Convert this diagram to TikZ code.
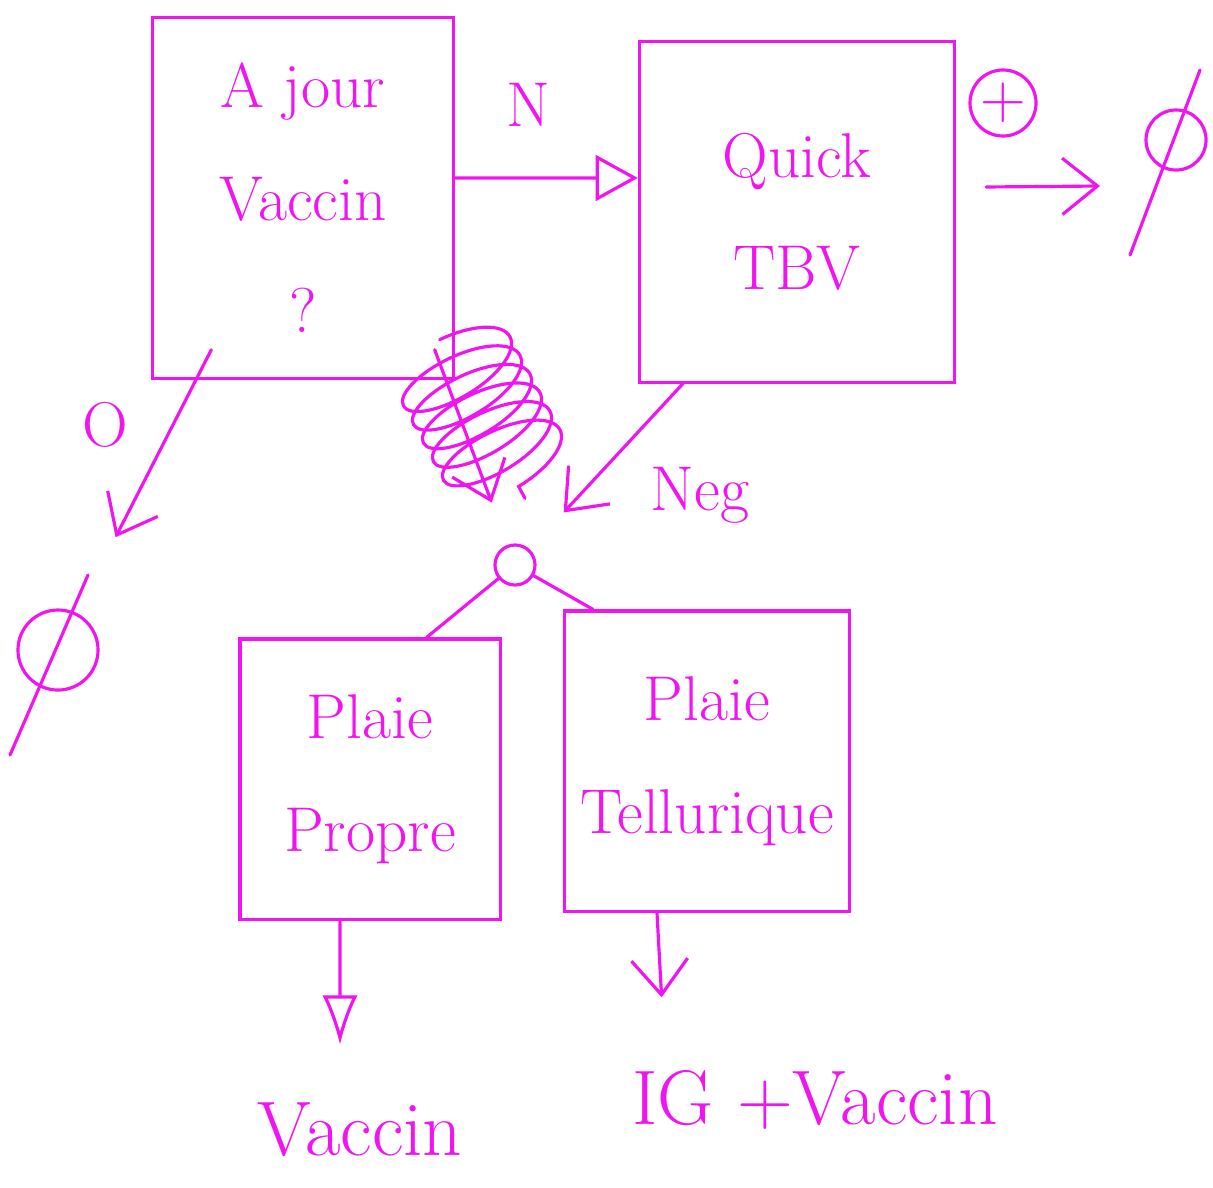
\documentclass[tikz,border=0pt]{standalone}
\usepackage{amsmath}
\usepackage{amssymb}
\usepackage{tikz}
\usetikzlibrary{arrows.meta,decorations.pathmorphing}
\definecolor{stylo}{RGB}{240,20,240}
\tikzset{
  boite/.style={draw, align=center, inner sep=0pt, font=\fontsize{18}{32}\selectfont},
  etiq/.style={font=\fontsize{18}{20}\selectfont},
  fleche/.style={-{Straight Barb[length=10pt,width=16pt]}},
  vide/.style={circle, draw, inner sep=0pt}
}
\begin{document}
\begin{tikzpicture}[x=0.01cm, y=-0.01cm, color=stylo, line width=0.9pt, line cap=round]
\useasboundingbox (0,0) rectangle (1213,1187);
% les cases
\node[boite, minimum width=3cm, minimum height=3.6cm] (jour) at (303,198) {A jour\\ Vaccin\\ ?};
\node[boite, minimum width=3.15cm, minimum height=3.4cm] (quick) at (797,212) {Quick\\ TBV};
\node[boite, minimum width=2.6cm, minimum height=2.8cm] (propre) at (370,779) {Plaie\\ Propre};
\node[boite, minimum width=2.85cm, minimum height=3cm] (tell) at (707,761) {Plaie\\ Tellurique};
\node[vide, minimum size=0.4cm] (jonction) at (515,565) {};
\node[vide, minimum size=0.66cm, etiq] (plus) at (1003,103) {+};
\node[vide, minimum size=0.6cm] (videA) at (1176,140) {};
\node[vide, minimum size=0.8cm] (videB) at (58,650) {};
\draw (videA.center) ++(-46,115) -- ++(70,-185);
\draw (videB.center) ++(-48,105) -- ++(78,-180);
\node[etiq] (non) at (528,105) {N};
\node[etiq] (oui) at (105,425) {O};
\node[etiq] (neg) at (700,495) {Neg};
\node[font=\fontsize{22}{26}\selectfont] (vaccin) at (360,1130) {Vaccin};
\node[font=\fontsize{22}{26}\selectfont] (ig) at (815,1100) {IG +Vaccin};
\coordinate (finplus) at (1100,186);
% les fleches
\draw[-{Triangle[open,length=12pt,width=13pt]}] ([yshift=0.2cm]jour.east) -- ([yshift=0.34cm]quick.west);
\draw[fleche] ([xshift=0.3cm,yshift=0.25cm]quick.east) -- (finplus);
\draw[fleche, shorten >=0.85cm] ([xshift=0.6cm,yshift=0.3cm]jour.south west) -- (videB);
\draw[fleche, shorten >=0.5cm] ([xshift=0.45cm]quick.south west) -- (jonction);
\draw[fleche, shorten >=0.45cm] ([xshift=-0.2cm,yshift=0.3cm]jour.south east) -- (jonction);
\draw[decorate, decoration={coil, aspect=0.4, amplitude=18pt, segment length=6pt}] ([xshift=-0.15cm,yshift=0.4cm]jour.south east) -- ([xshift=0.1cm,yshift=0.45cm]jonction.north);
\draw (jonction) -- ([xshift=-0.75cm]propre.north east);
\draw (jonction) -- ([xshift=0.3cm]tell.north west);
\draw[-{Latex[open,length=14pt,width=10pt]}, shorten >=0.45cm] ([xshift=-0.3cm]propre.south) -- ([xshift=-0.2cm]vaccin.north);
\draw[fleche, shorten >=0.6cm] ([xshift=-0.5cm]tell.south) -- ([xshift=-1.5cm]ig.north);
\end{tikzpicture}
\end{document}
